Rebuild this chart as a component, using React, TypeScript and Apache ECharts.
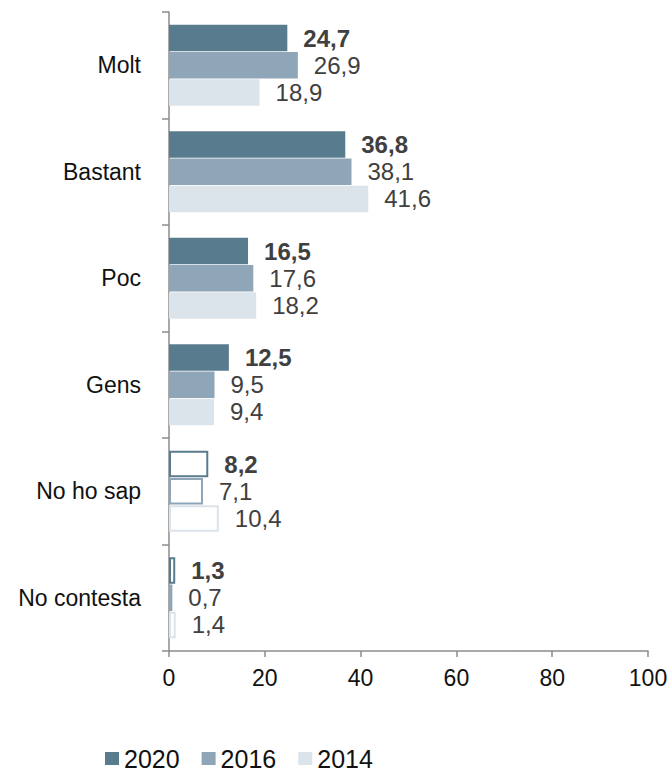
import React, { useEffect, useRef } from "react";
import * as echarts from "echarts";

const categories = ["Molt", "Bastant", "Poc", "Gens", "No ho sap", "No contesta"];
const years = ["2020", "2016", "2014"];
const values2020 = [24.7, 36.8, 16.5, 12.5, 8.2, 1.3];
const values2016 = [26.9, 38.1, 17.6, 9.5, 7.1, 0.7];
const values2014 = [18.9, 41.6, 18.2, 9.4, 10.4, 1.4];
const outlinedCategories = ["No ho sap", "No contesta"];
const xTicks = [0, 20, 40, 60, 80, 100];

const colors = ["#587b8d", "#8fa6b8", "#dce4eb"];
const FONT = "Liberation Sans, Arial, sans-serif";

export default function App() {
  const ref = useRef<HTMLDivElement>(null);
  useEffect(() => {
    if (!ref.current) return;
    const chart = echarts.init(ref.current, null, { renderer: "svg" });
    const seriesData = [values2020, values2016, values2014];
    const series = seriesData.map((vals, si) => ({
      name: years[si],
      type: "bar",
      barCategoryGap: "24%",
      barGap: "3%",
      itemStyle: { color: colors[si] },
      label: {
        show: true,
        position: "right",
        distance: 16,
        fontFamily: FONT,
        fontSize: 24,
        color: "#404040",
        fontWeight: si === 0 ? "bold" : "normal",
        formatter: (p: any) => String(p.value).replace(".", ","),
      },
      data: vals.map((v, i) =>
        outlinedCategories.includes(categories[i])
          ? {
              value: v,
              itemStyle: { color: "#ffffff", borderColor: colors[si], borderWidth: 2 },
            }
          : { value: v }
      ),
    }));
    chart.setOption({
      animation: false,
      textStyle: { fontFamily: FONT },
      grid: { left: 169, right: 24, top: 12, bottom: 122 },
      legend: {
        data: years,
        top: 746,
        left: 105,
        padding: 0,
        icon: "rect",
        itemWidth: 14,
        itemHeight: 13,
        itemGap: 22,
        textStyle: { fontFamily: FONT, fontSize: 25, color: "#111", lineHeight: 25 },
      },
      xAxis: {
        type: "value",
        min: xTicks[0],
        max: xTicks[xTicks.length - 1],
        interval: 20,
        splitLine: { show: false },
        axisLine: { show: true, lineStyle: { color: "#8c8c8c", width: 1.5 } },
        axisTick: { show: true, length: 6, lineStyle: { color: "#8c8c8c", width: 1.5 } },
        axisLabel: { fontFamily: FONT, fontSize: 23, color: "#111", margin: 15 },
      },
      yAxis: {
        type: "category",
        data: categories,
        inverse: true,
        axisLine: { show: true, lineStyle: { color: "#8c8c8c", width: 1.5 } },
        axisTick: { show: true, length: 7, lineStyle: { color: "#8c8c8c", width: 1.5 } },
        axisLabel: { fontFamily: FONT, fontSize: 23, color: "#111", margin: 28 },
      },
      series,
    });
    return () => chart.dispose();
  }, []);
  return <div ref={ref} style={{ width: 672, height: 773, position: "absolute", left: 0, top: 0 }} />;
}
